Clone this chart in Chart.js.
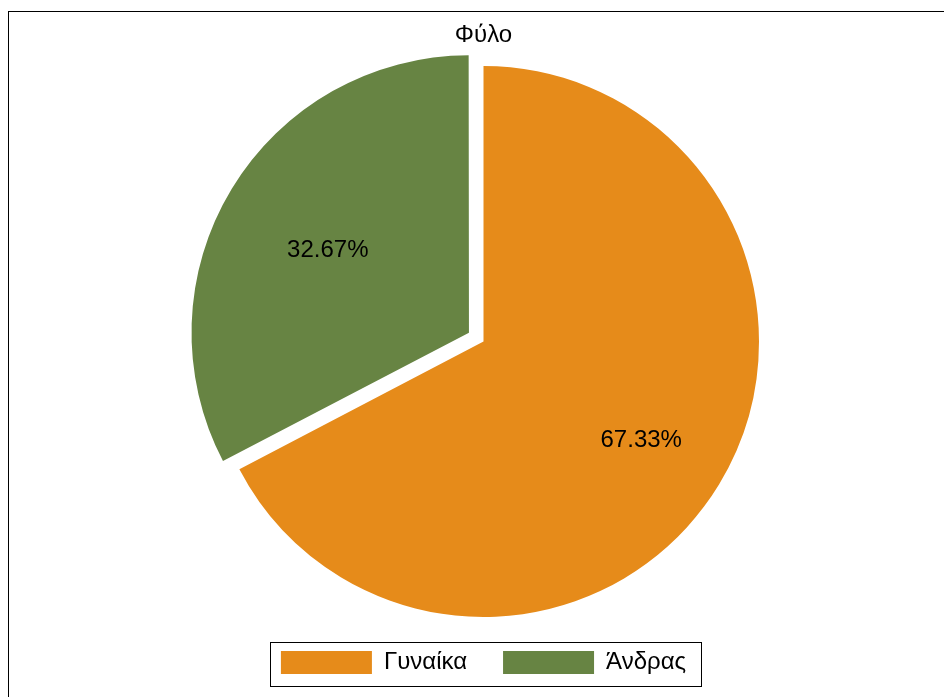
<!DOCTYPE html>
<html>
<head>
<meta charset="utf-8">
<script src="https://cdn.jsdelivr.net/npm/chart.js@4/dist/chart.umd.min.js"></script>
<style>
  html, body { margin: 0; padding: 0; background: #fff; }
  #wrap { position: relative; width: 944px; height: 697px; overflow: hidden; }
  #frame { position: absolute; left: 8px; top: 11px; width: 1000px; height: 1000px;
           border-top: 1px solid #000; border-left: 1px solid #000; }
  canvas { position: absolute; left: 0; top: 0; }
</style>
</head>
<body>
<div id="wrap">
  <div id="frame"></div>
  <canvas id="c" width="944" height="697"></canvas>
</div>
<script>
const chartTitle = 'Φύλο';
const categories = ['Γυναίκα', 'Άνδρας'];
const percentages = [67.33, 32.67];
const sliceColors = ['#E68B1A', '#678443'];
const explode = [0, 68];

const FONT = '"Liberation Sans", Arial, sans-serif';

const pctLabels = {
  id: 'pctLabels',
  afterDatasetsDraw(chart) {
    const ctx = chart.ctx;
    const meta = chart.getDatasetMeta(0);
    ctx.save();
    ctx.font = '24px ' + FONT;
    ctx.fillStyle = '#000';
    ctx.textAlign = 'center';
    ctx.textBaseline = 'middle';
    meta.data.forEach((arc, i) => {
      const mid = (arc.startAngle + arc.endAngle) / 2;
      const r = arc.outerRadius * 0.665;
      ctx.fillText(percentages[i].toFixed(2) + '%', arc.x + Math.cos(mid) * r + 1, arc.y + Math.sin(mid) * r + 3.5);
    });
    ctx.restore();
  }
};

const legendFrame = {
  id: 'legendFrame',
  afterDraw(chart) {
    const hb = chart.legend.legendHitBoxes;
    if (!hb || !hb.length) return;
    const first = hb[0], last = hb[hb.length - 1];
    const left = Math.round(first.left - 11) + 0.5;
    const right = Math.round(last.left + last.width + 15) + 0.5;
    const top = Math.round(first.top - 9) + 0.5;
    const bottom = Math.round(first.top + first.height + 11) + 0.5;
    const ctx = chart.ctx;
    ctx.save();
    ctx.strokeStyle = '#000';
    ctx.lineWidth = 1;
    ctx.strokeRect(left, top, right - left, bottom - top);
    ctx.restore();
  }
};

new Chart(document.getElementById('c'), {
  type: 'pie',
  data: {
    labels: categories,
    datasets: [{
      data: percentages,
      backgroundColor: sliceColors,
      borderWidth: 0,
      offset: explode
    }]
  },
  options: {
    responsive: false,
    animation: false,
    radius: 275.5,
    layout: { padding: { left: 23, right: 0, top: 0, bottom: 12.5 } },
    plugins: {
      title: {
        display: true,
        text: chartTitle,
        color: '#000',
        font: { family: FONT, size: 24, weight: 'normal', lineHeight: 1.2 },
        padding: { top: 21, bottom: 18.7 }
      },
      legend: {
        display: true,
        position: 'bottom',
        labels: {
          color: '#000',
          font: { family: FONT, size: 24 },
          boxWidth: 91,
          boxHeight: 23,
          padding: 36
        }
      },
      tooltip: { enabled: false }
    }
  },
  plugins: [pctLabels, legendFrame]
});
</script>
</body>
</html>
